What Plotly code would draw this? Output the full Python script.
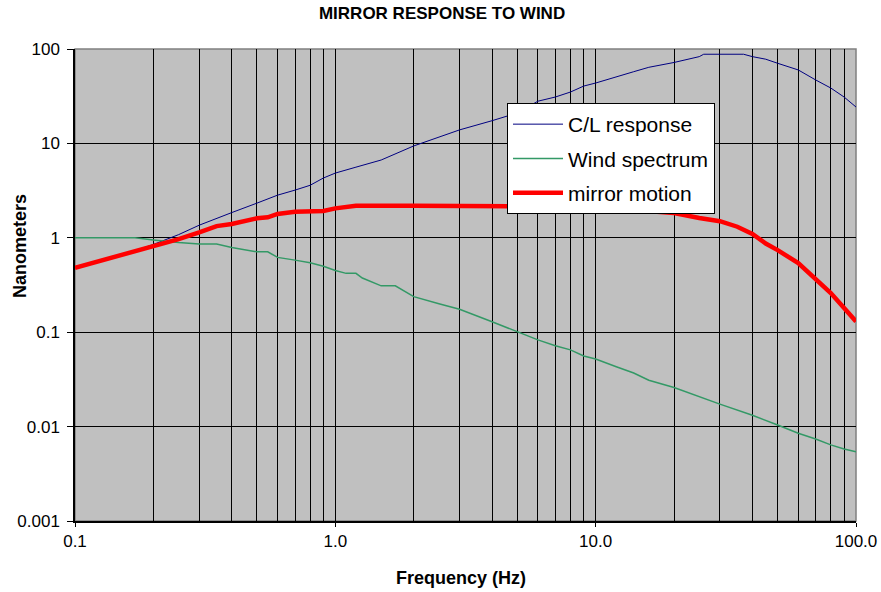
import plotly.graph_objects as go

# ---- data ----
cl_freq = [0.1, 0.15, 0.2, 0.25, 0.3, 0.35, 0.4, 0.5, 0.6, 0.7, 0.8, 0.9, 1.0, 1.2, 1.5,
           2, 3, 4, 5, 6, 7, 8, 9, 10, 12, 14, 16, 20, 25, 26, 30, 37, 40, 45, 50,
           60, 70, 80, 90, 100]
cl_resp = [0.48, 0.65, 0.85, 1.08, 1.36, 1.61, 1.85, 2.33, 2.83, 3.2, 3.6, 4.3, 4.85, 5.6, 6.67,
           9.4, 13.9, 17.4, 21, 28, 31, 35, 40.5, 43.6, 51, 57.5, 64, 72, 83, 88, 88, 88, 83, 78, 70.6,
           60, 47, 38.6, 31, 24.3]

wind_freq = [0.1, 0.17, 0.2, 0.25, 0.3, 0.35, 0.4, 0.5, 0.55, 0.6, 0.7, 0.8, 0.9, 1.0, 1.1,
             1.2, 1.27, 1.5, 1.7, 2.0, 2.5, 3, 4, 5, 6, 7, 8, 9, 10, 12, 14, 16, 20,
             30, 40, 50, 60, 70, 80, 90, 100]
wind_spec = [1.0, 1.0, 0.95, 0.89, 0.86, 0.86, 0.79, 0.71, 0.71, 0.62, 0.58, 0.545, 0.50, 0.45, 0.42,
             0.42, 0.375, 0.31, 0.31, 0.238, 0.20, 0.175, 0.129, 0.101, 0.083, 0.072, 0.065, 0.056, 0.052,
             0.043, 0.037, 0.031, 0.026, 0.0173, 0.0132, 0.0104, 0.0085, 0.0074, 0.0064, 0.0058, 0.0054]

mirror_freq = [0.1, 0.15, 0.2, 0.25, 0.3, 0.35, 0.4, 0.45, 0.5, 0.55, 0.6, 0.7, 0.8, 0.9, 1.0,
               1.1, 1.2, 2, 3, 4, 5, 7, 10, 13, 16, 20, 25, 30, 35, 40, 45, 50, 60, 70, 80, 90, 100]
mirror_mot = [0.48, 0.65, 0.805, 0.97, 1.14, 1.33, 1.4, 1.52, 1.61, 1.65, 1.79, 1.89, 1.92, 1.92, 2.05,
              2.1, 2.19, 2.19, 2.19, 2.19, 2.19, 2.15, 2.1, 1.98, 1.88, 1.83, 1.62, 1.5, 1.31, 1.1, 0.87,
              0.74, 0.54, 0.37, 0.26, 0.18, 0.13]

x_major = [0.1, 1, 10, 100]
x_major_text = ["0.1", "1.0", "10.0", "100.0"]
x_minor = [m * d for d in (0.1, 1, 10) for m in range(2, 10)]
y_major = [0.001, 0.01, 0.1, 1, 10, 100]
y_major_text = ["0.001", "0.01", "0.1", "1", "10", "100"]

FONT = "Liberation Sans, Arial, sans-serif"

fig = go.Figure()
fig.add_trace(go.Scatter(x=cl_freq, y=cl_resp, mode="lines", name="C/L response",
                         line=dict(color="#000080", width=1), legendgroup="a"))
fig.add_trace(go.Scatter(x=wind_freq, y=wind_spec, mode="lines", name="Wind spectrum",
                         line=dict(color="#339966", width=1.5), legendgroup="b"))
fig.add_trace(go.Scatter(x=mirror_freq, y=mirror_mot, mode="lines", name="mirror motion",
                         line=dict(color="#FF0000", width=4.5), legendgroup="c"))

fig.update_layout(
    width=881, height=592,
    margin=dict(l=75, r=25, t=49, b=71, autoexpand=False),
    paper_bgcolor="white", plot_bgcolor="#C0C0C0",
    font=dict(family=FONT, color="black"),
    showlegend=True,
    legend=dict(x=(507 - 75) / 781, y=(521 - 103) / 472, xanchor="left", yanchor="top",
                bgcolor="white", bordercolor="black", borderwidth=1,
                font=dict(size=21, family=FONT), tracegroupgap=4,
                itemwidth=50, traceorder="grouped"),
    title=dict(text="<b>MIRROR RESPONSE TO WIND</b>", x=0.47, xanchor="center",
               xref="paper", y=1 - 13 / 592, yanchor="middle",
               font=dict(size=17, family=FONT)),
    shapes=[dict(type="rect", xref="paper", yref="paper", x0=0, x1=1, y0=0, y1=1,
                 line=dict(color="#808080", width=1.5), layer="below")],
    annotations=[
        dict(text="<b>Frequency (Hz)</b>", xref="paper", yref="paper",
             x=(460.5 - 75) / 781, y=(521 - 577.7) / 472, showarrow=False,
             xanchor="center", yanchor="middle", font=dict(size=18, family=FONT)),
        dict(text="<b>Nanometers</b>", xref="paper", yref="paper",
             x=(20 - 75) / 781, y=(521 - 246) / 472, showarrow=False, textangle=-90,
             xanchor="center", yanchor="middle", font=dict(size=18, family=FONT)),
    ],
)

fig.update_xaxes(type="log", range=[-1, 2], tickvals=x_major, ticktext=x_major_text,
                 automargin=False,
                 showgrid=True, gridcolor="black", gridwidth=1,
                 showline=True, linecolor="black", linewidth=1.5,
                 ticks="outside", ticklen=4, tickcolor="black",
                 tickfont=dict(size=17, family=FONT), zeroline=False,
                 minor=dict(tickvals=x_minor, showgrid=True, gridcolor="black",
                            gridwidth=1, ticks=""))
fig.update_yaxes(type="log", range=[-3, 2], tickvals=y_major, ticktext=y_major_text,
                 automargin=False,
                 showgrid=True, gridcolor="black", gridwidth=1,
                 showline=True, linecolor="black", linewidth=1.5,
                 ticks="outside", ticklen=6, tickcolor="black",
                 tickfont=dict(size=17, family=FONT), zeroline=False,
                 ticklabelstandoff=4)

fig.write_html("out.html")
